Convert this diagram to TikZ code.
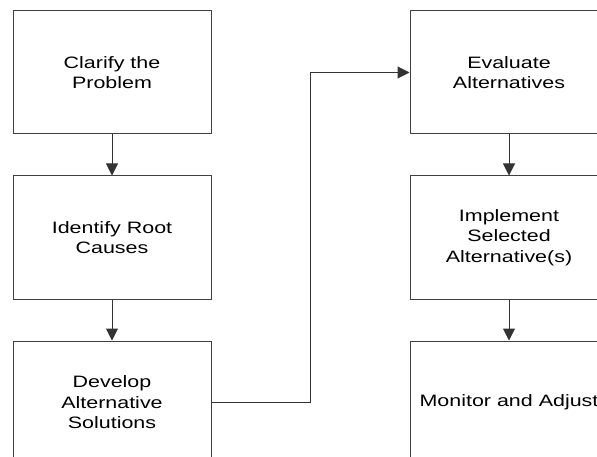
\documentclass[tikz,border=0pt]{standalone}
\usepackage{fontspec}
\setmainfont[FakeStretch=1.3]{Liberation Sans}
\usetikzlibrary{positioning, arrows.meta}

\begin{document}
\begin{tikzpicture}[x=1pt, y=-1pt, node distance=41pt,
	box/.style={draw=black!75, line width=1pt, minimum width=198pt, minimum height=123pt, align=center, font=\fontsize{16.5}{20.5}\selectfont},
	flow/.style={draw=black!80, line width=1pt, -{Triangle[width=12pt, length=12pt]}}]
	\useasboundingbox (0,0) rectangle (597,457);
	\clip (0,0) rectangle (597,457);
	\node (clarify) [box] at (112,72.5) {Clarify the\\Problem};
	\node (identify) [box, below=of clarify] {Identify Root\\Causes};
	\node (develop) [box, below=of identify] {Develop\\Alternative\\Solutions};
	\node (evaluate) [box] at (509,72.5) {Evaluate\\Alternatives};
	\node (implement) [box, below=of evaluate] {Implement\\Selected\\Alternative(s)};
	\node (monitor) [box, below=of implement] {Monitor and Adjust};
	\coordinate (turn) at (310,0);
	\path
		(clarify) edge [flow] (identify)
		(identify) edge [flow] (develop)
		(evaluate) edge [flow] (implement)
		(implement) edge [flow] (monitor)
	;
	\draw [flow] (develop.east) -| (turn |- evaluate.west) -- (evaluate.west);
\end{tikzpicture}
\end{document}
